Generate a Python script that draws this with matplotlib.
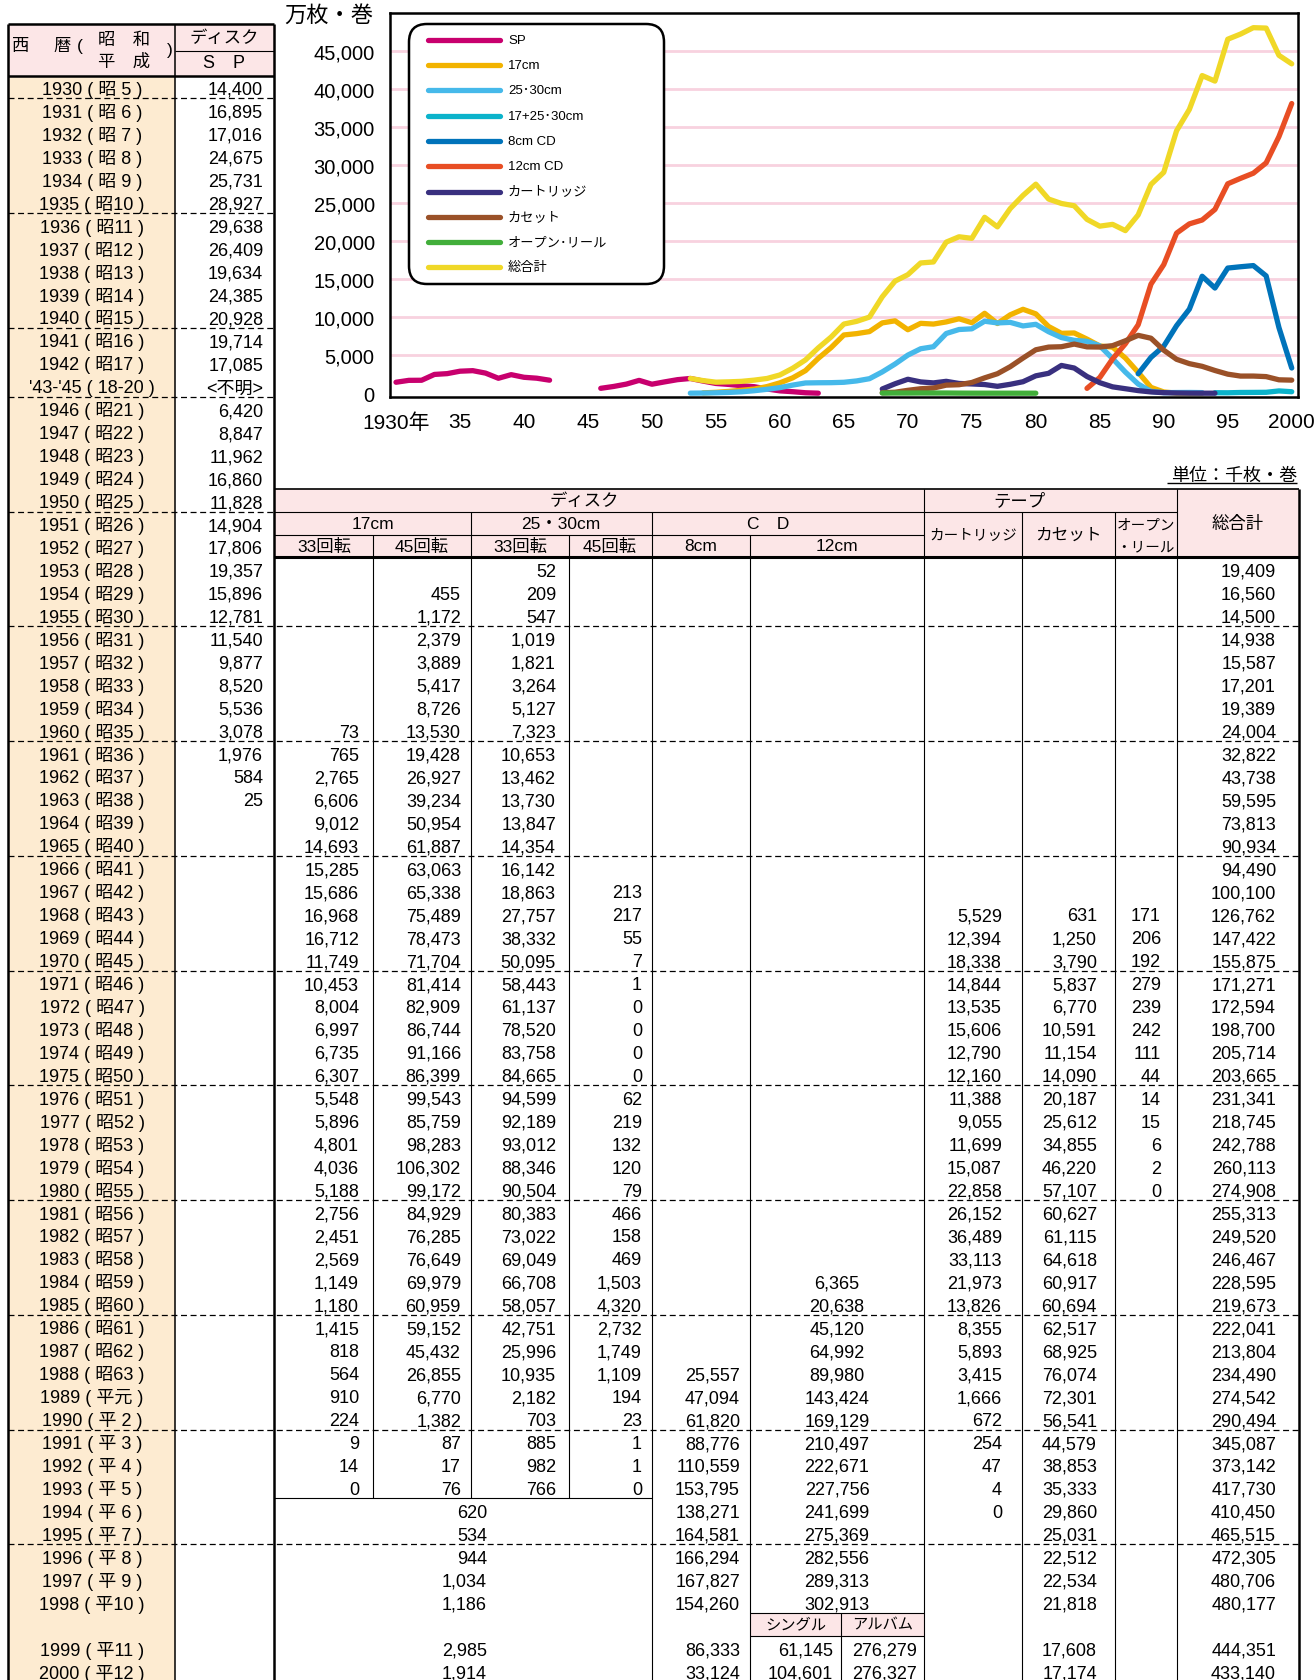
import matplotlib
matplotlib.use("Agg")
import matplotlib.pyplot as plt
import numpy as np
from matplotlib.patches import Rectangle, FancyBboxPatch

plt.rcParams['font.family'] = ['Liberation Sans', 'Noto Sans CJK JP']
plt.rcParams['lines.scale_dashes'] = False

# ---------------- data (千枚・巻) ----------------
sp_years_a = list(range(1930, 1943))
sp_a = [14400, 16895, 17016, 24675, 25731, 28927, 29638, 26409, 19634, 24385,
        20928, 19714, 17085]
sp_gap_label = "'43-'45 ( 18-20 )"
sp_gap_value = "<不明>"
sp_years_b = list(range(1946, 1964))
sp_b = [6420, 8847, 11962, 16860, 11828, 14904, 17806, 19357, 15896, 12781,
        11540, 9877, 8520, 5536, 3078, 1976, 584, 25]

years = list(range(1953, 2001))


def pad(start, vals):
    out = [None] * (start - 1953) + list(vals)
    return out + [None] * (len(years) - len(out))


d17_33 = pad(1960, [73, 765, 2765, 6606, 9012, 14693, 15285, 15686, 16968, 16712,
                    11749, 10453, 8004, 6997, 6735, 6307, 5548, 5896, 4801, 4036,
                    5188, 2756, 2451, 2569, 1149, 1180, 1415, 818, 564, 910,
                    224, 9, 14, 0])
d17_45 = pad(1954, [455, 1172, 2379, 3889, 5417, 8726, 13530, 19428, 26927, 39234,
                    50954, 61887, 63063, 65338, 75489, 78473, 71704, 81414, 82909, 86744,
                    91166, 86399, 99543, 85759, 98283, 106302, 99172, 84929, 76285, 76649,
                    69979, 60959, 59152, 45432, 26855, 6770, 1382, 87, 17, 76])
d25_33 = pad(1953, [52, 209, 547, 1019, 1821, 3264, 5127, 7323, 10653, 13462,
                    13730, 13847, 14354, 16142, 18863, 27757, 38332, 50095, 58443, 61137,
                    78520, 83758, 84665, 94599, 92189, 93012, 88346, 90504, 80383, 73022,
                    69049, 66708, 58057, 42751, 25996, 10935, 2182, 703, 885, 982, 766])
d25_45 = pad(1967, [213, 217, 55, 7, 1, 0, 0, 0, 0, 62, 219, 132, 120, 79, 466,
                    158, 469, 1503, 4320, 2732, 1749, 1109, 194, 23, 1, 1, 0])
d17_25 = pad(1994, [620, 534, 944, 1034, 1186, 2985, 1914])
cd8 = pad(1988, [25557, 47094, 61820, 88776, 110559, 153795, 138271, 164581,
                 166294, 167827, 154260, 86333, 33124])
cd12 = pad(1984, [6365, 20638, 45120, 64992, 89980, 143424, 169129, 210497,
                  222671, 227756, 241699, 275369, 282556, 289313, 302913])
cd12_single = pad(1999, [61145, 104601])
cd12_album = pad(1999, [276279, 276327])
cart = pad(1968, [5529, 12394, 18338, 14844, 13535, 15606, 12790, 12160, 11388, 9055,
                  11699, 15087, 22858, 26152, 36489, 33113, 21973, 13826, 8355, 5893,
                  3415, 1666, 672, 254, 47, 4, 0])
cass = pad(1968, [631, 1250, 3790, 5837, 6770, 10591, 11154, 14090, 20187, 25612,
                  34855, 46220, 57107, 60627, 61115, 64618, 60917, 60694, 62517, 68925,
                  76074, 72301, 56541, 44579, 38853, 35333, 29860, 25031, 22512, 22534,
                  21818, 17608, 17174])
reel = pad(1968, [171, 206, 192, 279, 239, 242, 111, 44, 14, 15, 6, 2, 0])
total = pad(1953, [19409, 16560, 14500, 14938, 15587, 17201, 19389, 24004, 32822, 43738,
                   59595, 73813, 90934, 94490, 100100, 126762, 147422, 155875, 171271, 172594,
                   198700, 205714, 203665, 231341, 218745, 242788, 260113, 274908, 255313, 249520,
                   246467, 228595, 219673, 222041, 213804, 234490, 274542, 290494, 345087, 373142,
                   417730, 410450, 465515, 472305, 480706, 480177, 444351, 433140])

legend_labels = ['SP', '17cm', '25･30cm', '17+25･30cm', '8cm CD', '12cm CD',
                 'カートリッジ', 'カセット', 'オープン･リール', '総合計']
colors = ['#C8006E', '#F2B300', '#46B9EA', '#0BB3CB', '#0073BA', '#E84E24',
          '#39307F', '#9A5128', '#42AE3A', '#F0D827']

# ---------------- series for chart (万枚・巻) ----------------
def arr(lst):
    return np.array([np.nan if v is None else v for v in lst], float)


def combine(*lists):
    a = np.vstack([arr(l) for l in lists])
    s = np.nansum(a, axis=0)
    s[np.all(np.isnan(a), axis=0)] = np.nan
    return s


yrs = np.array(years)
sp_x = np.array(sp_years_a + [1943] + sp_years_b, float)
sp_y = np.array(sp_a + [np.nan] + sp_b, float) / 10
chart_series = [
    (sp_x, sp_y),
    (yrs, combine(d17_33, d17_45) / 10),
    (yrs, combine(d25_33, d25_45) / 10),
    (yrs, arr(d17_25) / 10),
    (yrs, arr(cd8) / 10),
    (yrs, combine(cd12, cd12_single, cd12_album) / 10),
    (yrs, arr(cart) / 10),
    (yrs, arr(cass) / 10),
    (yrs, arr(reel) / 10),
    (yrs, arr(total) / 10),
]

# ---------------- figure ----------------
W, H = 1316, 1681
fig = plt.figure(figsize=(W / 100, H / 100), dpi=100)
tab = fig.add_axes([0, 0, 1, 1], zorder=0)
tab.set_xlim(0, W)
tab.set_ylim(H, 0)
tab.axis('off')

AX_L, AX_R, AX_T, AX_B = 390, 1298, 14, 398
ax = fig.add_axes([AX_L / W, 1 - AX_B / H, (AX_R - AX_L) / W, (AX_B - AX_T) / H], zorder=1)
ax.set_xlim(1929.53, 2000.49)
ax.set_ylim(-500, 50000)
for v in range(5000, 50000, 5000):
    ax.axhline(v, color='#F8D2DF', lw=2, zorder=1)
for (x, y), c in zip(chart_series, colors):
    ax.plot(x, y, color=c, lw=3.8, solid_capstyle='round', solid_joinstyle='round', zorder=3)
ax.set_yticks(range(0, 50000, 5000))
ax.set_yticklabels([f"{v:,}" for v in range(0, 50000, 5000)], fontsize=14.5)
xt = list(range(1930, 2001, 5))
ax.set_xticks(xt)
ax.set_xticklabels(['1930年'] + [f"{v % 100:02d}" if v < 2000 else '2000' for v in xt[1:]],
                   fontsize=15)
ax.tick_params(axis='both', length=0)
ax.tick_params(axis='y', pad=11)
ax.tick_params(axis='x', pad=11)
for s in ax.spines.values():
    s.set_linewidth(1.8)

tab.text(329, 16, '万枚・巻', ha='center', va='center', fontsize=16)

# legend (manual, rounded box)
leg = fig.add_axes([0, 0, 1, 1], zorder=10)
leg.set_xlim(0, W)
leg.set_ylim(H, 0)
leg.axis('off')
leg.add_patch(FancyBboxPatch((420, 36), 233, 238, boxstyle='round,pad=11,rounding_size=18',
                             fc='white', ec='black', lw=1.8))
for i, (lab, c) in enumerate(zip(legend_labels, colors)):
    yy = 40.7 + i * 25.3
    leg.plot([428, 500], [yy, yy], color=c, lw=3.8, solid_capstyle='round')
    leg.text(508, yy, lab, ha='left', va='center', fontsize=9.5)

# ---------------- table ----------------
R0, RH = 76.5, 22.95
PINK = '#FCE6E7'
PEACH = '#FDEBD1'


def rtop(i):
    return R0 + i * RH


def rc(i):
    return R0 + (i + 0.5) * RH


def row_of(y):
    if y <= 1942:
        return y - 1930
    if y <= 1998:
        return y - 1932
    return y - 1931


def hl(y, x0, x1, lw=0.8, ls='-'):
    tab.plot([x0, x1], [y, y], color='black', lw=lw, ls=ls, solid_capstyle='butt', zorder=3)


def vl(x, y0, y1, lw=0.8):
    tab.plot([x, x], [y0, y1], color='black', lw=lw, solid_capstyle='butt', zorder=3)


def num(x, i, s, ha='right', size=13):
    tab.text(x, rc(i) + 7, s, ha=ha, va='baseline', fontsize=size, zorder=4)


DASH = (0, (4.3, 2.6))

# fills
tab.add_patch(Rectangle((8, 25), 266, 51.5, fc=PINK, ec='none', zorder=1))
tab.add_patch(Rectangle((8, 76.5), 167, H - 76.5, fc=PEACH, ec='none', zorder=1))
tab.add_patch(Rectangle((274, rtop(18)), 1025, 3 * RH, fc=PINK, ec='none', zorder=1))
tab.add_patch(Rectangle((750, rtop(67)), 174, RH, fc=PINK, ec='none', zorder=1))

# left header
for s, x, y in [('西', 21, 47), ('暦', 62, 47), ('(', 80, 47), ('昭　和', 124, 40),
                ('平　成', 124, 62), (')', 170, 50)]:
    tab.text(x, y, s, ha='center', va='center', fontsize=12.5, zorder=4)
tab.text(224, 38.5, 'ディスク', ha='center', va='center', fontsize=12.5, zorder=4)
tab.text(224, 64, 'S　P', ha='center', va='center', fontsize=13, zorder=4)

# left table lines
hl(25, 8, 274, lw=1.8)
hl(51.7, 175, 274)
hl(76.5, 8, 274, lw=1.8)
vl(8, 25, H, lw=1.8)
vl(175, 25, H, lw=1.1)
vl(274, 25, H, lw=1.8)


def era(y):
    if y <= 1988:
        return f"昭{y - 1925:>2}"
    n = y - 1988
    return "平元" if n == 1 else f"平{n:>2}"


all_years = sp_years_a + list(range(1946, 1999)) + [1999, 2000]
for y in all_years:
    num(92, row_of(y), f"{y} ( {era(y)} )", ha='center')
num(92, 13, sp_gap_label, ha='center')
num(263, 13, sp_gap_value)
for y, v in zip(sp_years_a + sp_years_b, sp_a + sp_b):
    num(263, row_of(y), f"{v:,}")

# dashed separators
for i in [0, 5, 10, 13, 18]:
    hl(rtop(i + 1), 8, 274, lw=0.9, ls=DASH)
for i in range(23, 64, 5):
    hl(rtop(i + 1), 8, 1299, lw=0.9, ls=DASH)

# right table header
tA, tB, tC, tD = rtop(18), rtop(19), rtop(20), rtop(21)
hl(tA, 274, 1299, lw=1.2)
hl(tB, 274, 1177)
hl(tC, 274, 924)
hl(tD, 274, 1299, lw=2.2)
hl(rtop(62), 274, 651.7)
hl(rtop(67), 750, 924)
hl(rtop(68), 750, 924)
vl(1299, tA, H, lw=1.8)
vl(924, tA, H)
vl(1177, tA, H)
vl(651.7, tB, H)
vl(1022, tB, H)
vl(1115, tB, H)
vl(470.7, tB, rtop(62))
vl(372.7, tC, rtop(62))
vl(569.3, tC, rtop(62))
vl(750, tC, H)
vl(841, rtop(67), H)

hs = 12.5
for s, x, y in [('ディスク', 584, rc(18)), ('テープ', 1019, rc(18)),
                ('17cm', 373, rc(19)), ('25・30cm', 561, rc(19)), ('C　D', 768, rc(19)),
                ('33回転', 324, rc(20)), ('45回転', 422, rc(20)), ('33回転', 520, rc(20)),
                ('45回転', 610, rc(20)), ('8cm', 701, rc(20)), ('12cm', 837, rc(20)),
                ('総合計', 1238, (tA + tD) / 2)]:
    tab.text(x, y, s, ha='center', va='center', fontsize=hs, zorder=4)
tab.text(973, (tB + tD) / 2, 'カートリッジ', ha='center', va='center', fontsize=10.5, zorder=4)
tab.text(1068.5, (tB + tD) / 2, 'カセット', ha='center', va='center', fontsize=12, zorder=4)
tab.text(1146, rc(19) + 1, 'オープン', ha='center', va='center', fontsize=10.5, zorder=4)
tab.text(1146, rc(20), '・リール', ha='center', va='center', fontsize=10.5, zorder=4)
tab.text(795.5, rc(67), 'シングル', ha='center', va='center', fontsize=11, zorder=4)
tab.text(882.5, rc(67), 'アルバム', ha='center', va='center', fontsize=11, zorder=4)

tab.text(1297, 476, '単位：千枚・巻', ha='right', va='center', fontsize=13, zorder=4)
hl(484, 1167, 1297, lw=1.0)

# right table values
columns = [(d17_33, 359, 'right'), (d17_45, 461, 'right'), (d25_33, 556, 'right'),
           (d25_45, 642, 'right'), (d17_25, 487, 'right'), (cd8, 740, 'right'),
           (cd12, 837, 'center'), (cd12_single, 833, 'right'), (cd12_album, 917, 'right'),
           (cart, 1002, 'right'), (cass, 1097, 'right'), (reel, 1161, 'right'),
           (total, 1276, 'right')]
for col, x, ha in columns:
    for y, v in zip(years, col):
        if v is not None:
            num(x, row_of(y), f"{v:,}", ha=ha)

fig.savefig('out.png', dpi=100)
